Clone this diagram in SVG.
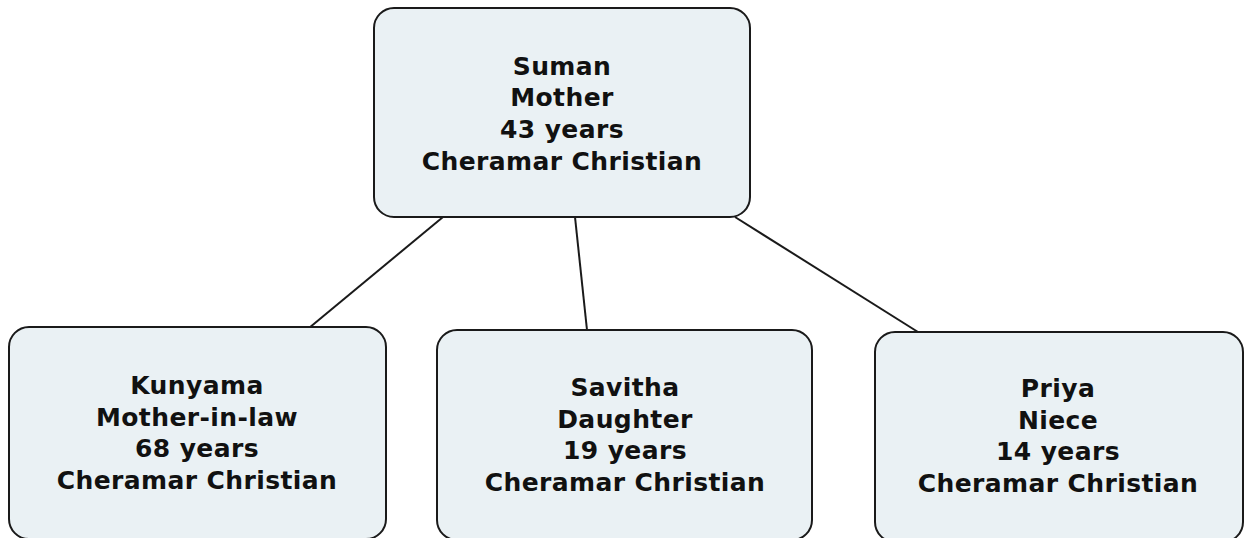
<svg xmlns="http://www.w3.org/2000/svg" width="1248" height="538" viewBox="0 0 1248 538">
<style>
.box{fill:#eaf1f4;stroke:#1a1a1a;stroke-width:2}
.t{font-family:"DejaVu Sans",Verdana,sans-serif;font-weight:bold;font-size:25px;letter-spacing:0.4px;fill:#111;text-anchor:middle}
.c{stroke:#1a1a1a;stroke-width:2;fill:none}
</style>
<rect width="1248" height="538" fill="#fff"/>
<g id="connectors">
<line class="c" x1="443" y1="217" x2="309" y2="328"/>
<line class="c" x1="575" y1="217" x2="587" y2="330"/>
<line class="c" x1="735" y1="217" x2="918" y2="332"/>
</g>
<g id="suman">
<rect class="box" x="374" y="8" width="376" height="209" rx="20"/>
<text class="t" x="562" y="75">Suman</text>
<text class="t" x="562" y="106">Mother</text>
<text class="t" x="562" y="138">43 years</text>
<text class="t" x="562" y="170">Cheramar Christian</text>
</g>
<g id="kunyama">
<rect class="box" x="9" y="327" width="377" height="212" rx="20"/>
<text class="t" x="197" y="394">Kunyama</text>
<text class="t" x="197" y="426">Mother-in-law</text>
<text class="t" x="197" y="457">68 years</text>
<text class="t" x="197" y="489">Cheramar Christian</text>
</g>
<g id="savitha">
<rect class="box" x="437" y="330" width="375" height="210" rx="20"/>
<text class="t" x="625" y="396">Savitha</text>
<text class="t" x="625" y="428">Daughter</text>
<text class="t" x="625" y="459">19 years</text>
<text class="t" x="625" y="491">Cheramar Christian</text>
</g>
<g id="priya">
<rect class="box" x="875" y="332" width="368" height="210" rx="20"/>
<text class="t" x="1058" y="397">Priya</text>
<text class="t" x="1058" y="429">Niece</text>
<text class="t" x="1058" y="460">14 years</text>
<text class="t" x="1058" y="492">Cheramar Christian</text>
</g>
</svg>
